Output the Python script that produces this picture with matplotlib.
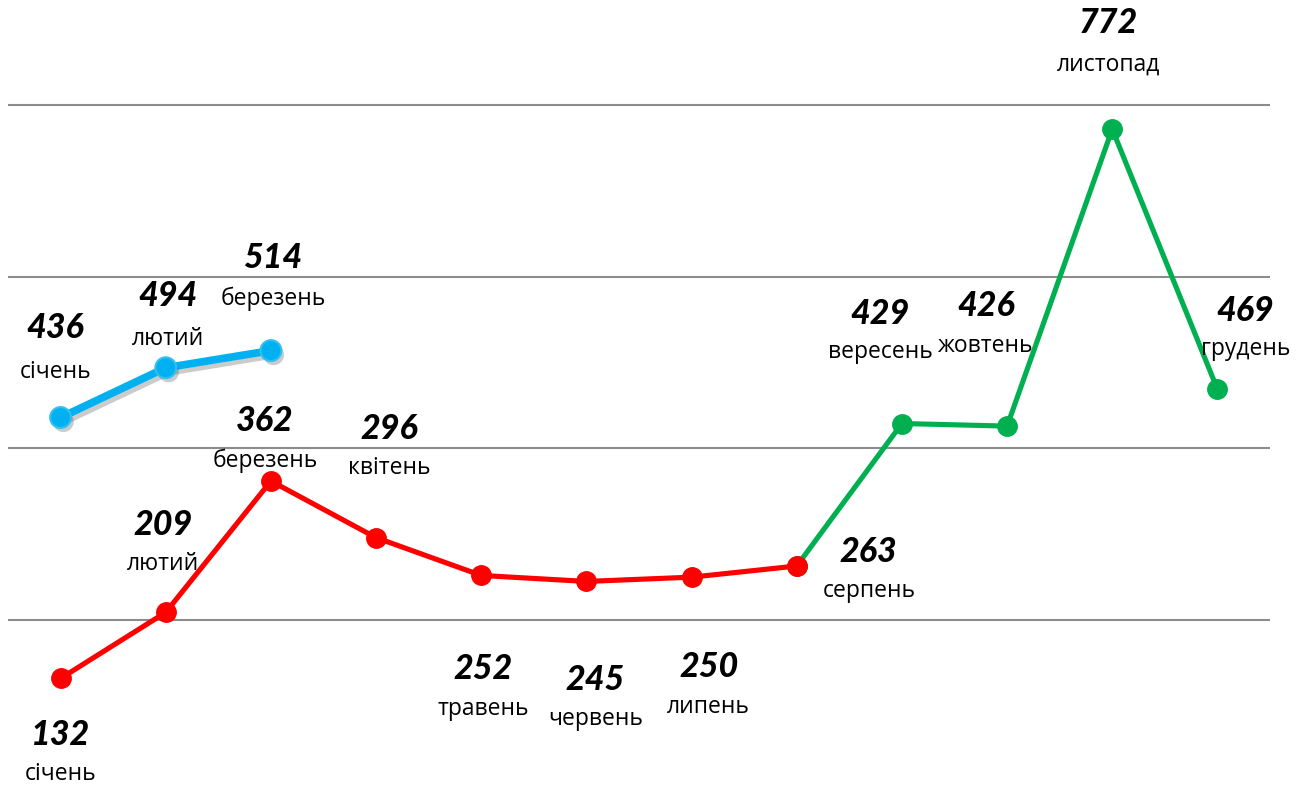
import matplotlib.pyplot as plt
import matplotlib.patheffects as pe

# Data
months = ['січень', 'лютий', 'березень', 'квітень', 'травень', 'червень',
          'липень', 'серпень', 'вересень', 'жовтень', 'листопад', 'грудень']
red_idx = [0, 1, 2, 3, 4, 5, 6, 7]
red_vals = [132, 209, 362, 296, 252, 245, 250, 263]
green_idx = [7, 8, 9, 10, 11]
green_vals = [263, 429, 426, 772, 469]
blue_idx = [0, 1, 2]
blue_vals = [436, 494, 514]

# label offsets (pixels): (dx, dy number, dy month)
red_off = [(0, -57, -96), (-3, 87, 48), (-6, 60, 20), (13, 109, 70),
           (2, -94, -134), (9, -99, -138), (17, -90, -130), (72, 14, -25)]
green_off = [None, (-22, 110, 72), (-21, 120, 80), (-4, 106, 65), (28, 78, 40)]
blue_off = [(-5, 90, 46), (2, 72, 29), (2, 93, 52)]

num_font = dict(family=['Lato', 'DejaVu Sans'], fontsize=24.5, fontweight='black',
                fontstyle='italic', color='black')
mon_font = dict(family=['Open Sans', 'DejaVu Sans'], fontsize=16.5, color='black')

fig = plt.figure(figsize=(13.1, 7.87), dpi=100)
ax = fig.add_axes([8 / 1310, 0, 1262 / 1310, 697 / 787])
ax.set_xlim(-0.5, 11.5)
ax.set_ylim(5.5, 817.6)

ax.set_yticks([200, 400, 600, 800])
ax.yaxis.grid(True, color='#8C8C8C', linewidth=1.5)
ax.set_axisbelow(True)
ax.tick_params(left=False, bottom=False, labelleft=False, labelbottom=False)
ax.set_xticks([])
for s in ax.spines.values():
    s.set_visible(False)

ax.plot(green_idx, green_vals, color='#00B050', lw=3.7, marker='o', ms=14,
        solid_capstyle='round', zorder=3)
ax.plot(red_idx, red_vals, color='#FF0000', lw=3.7, marker='o', ms=14,
        solid_capstyle='round', zorder=4)

# blue series with soft shadow
ax.plot(blue_idx, blue_vals, color='#00B0F0', lw=5.5, solid_capstyle='round', zorder=4,
        path_effects=[pe.SimpleLineShadow(offset=(2, -3), shadow_color='#555555', alpha=0.3),
                      pe.Normal()])
ax.plot(blue_idx, blue_vals, ls='none', marker='o', ms=15, color='#00B0F0',
        mec='#33C0F2', mew=1.5, zorder=5,
        path_effects=[pe.SimplePatchShadow(offset=(2, -3), shadow_rgbFace='#555555', alpha=0.3),
                      pe.Normal()])


def add_labels(idx, vals, offs):
    for i, v, o in zip(idx, vals, offs):
        if o is None:
            continue
        dx, dn, dm = o
        ax.annotate(str(v), (i, v), xytext=(dx, dn), textcoords='offset pixels',
                    ha='center', va='center', annotation_clip=False, **num_font)
        ax.annotate(months[i], (i, v), xytext=(dx, dm), textcoords='offset pixels',
                    ha='center', va='center', annotation_clip=False, **mon_font)


add_labels(red_idx, red_vals, red_off)
add_labels(green_idx, green_vals, green_off)
add_labels(blue_idx, blue_vals, blue_off)

fig.savefig('out.png', dpi=100)
